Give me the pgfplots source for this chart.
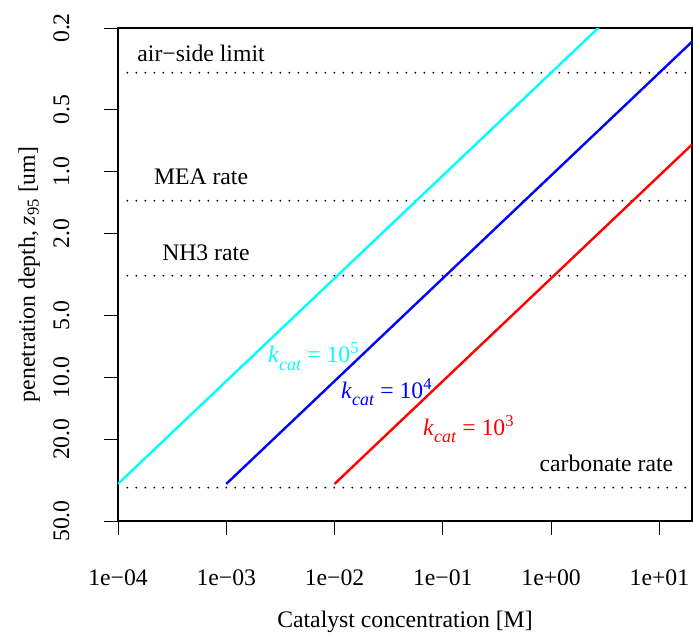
\documentclass[border=0pt]{standalone}
\usepackage{pgfplots}
\pgfplotsset{compat=1.18}
\usepackage{fontspec}
\setmainfont{Liberation Serif}
\definecolor{rcyan}{RGB}{0,255,255}
\definecolor{rblue}{RGB}{0,0,255}
\definecolor{rred}{RGB}{255,0,0}
\begin{document}
\fontsize{23.7}{28}\selectfont%
\begin{tikzpicture}
\begin{axis}[
  at={(0pt,0pt)}, anchor=south west,
  scale only axis, width=574pt, height=493pt,
  xmode=log, ymode=log, y dir=reverse,
  xmin=1e-4, xmax=20, ymin=0.2, ymax=50,
  enlargelimits=false,
  axis line style={line width=1.6pt},
  xtick={1e-4,1e-3,1e-2,1e-1,1,10},
  xticklabels={1e−04,1e−03,1e−02,1e−01,1e+00,1e+01},
  ytick={0.2,0.5,1,2,5,10,20,50},
  yticklabels={0.2,0.5,1.0,2.0,5.0,10.0,20.0,50.0},
  xminorticks=false, yminorticks=false,
  xtick pos=left, ytick pos=left,
  tick align=outside, major tick length=14pt,
  every tick/.style={black, line width=0.8pt},
  xticklabel style={anchor=base, inner sep=0pt},
  xticklabel shift=51pt,
  yticklabel style={rotate=90, anchor=base, inner sep=0pt},
  yticklabel shift=35pt,
  xlabel={Catalyst concentration [M]},
  ylabel={penetration depth, \textit{z}\textsubscript{95} [um]},
  xlabel style={at={(axis description cs:0.5,-0.215)}, anchor=base, inner sep=0pt},
  ylabel style={at={(axis description cs:-0.1446,0.5)}, rotate=0, anchor=base, inner sep=0pt},
  clip=true,
]
% reference levels
\addplot[black, line width=2.0pt, line cap=round, dash pattern=on 0pt off 9pt] coordinates {(1.22e-4,0.330) (20,0.330)};
\addplot[black, line width=2.0pt, line cap=round, dash pattern=on 0pt off 9pt] coordinates {(1.22e-4,1.383) (20,1.383)};
\addplot[black, line width=2.0pt, line cap=round, dash pattern=on 0pt off 9pt] coordinates {(1.22e-4,3.205) (20,3.205)};
\addplot[black, line width=2.0pt, line cap=round, dash pattern=on 0pt off 9pt] coordinates {(1.22e-4,34.4) (20,34.4)};
% penetration depth lines
\addplot[rcyan, line width=2.4pt] coordinates {(1e-4,33) (20,0.0738)};
\addplot[rblue, line width=2.4pt] coordinates {(1e-3,33) (20,0.2333)};
\addplot[rred, line width=2.4pt] coordinates {(1e-2,33) (20,0.738)};
% labels
\node[anchor=base, inner sep=0pt] at (axis cs:5.85e-4,0.292) {air−side limit};
\node[anchor=base, inner sep=0pt] at (axis cs:5.85e-4,1.16) {MEA rate};
\node[anchor=base, inner sep=0pt] at (axis cs:6.5e-4,2.69) {NH3 rate};
\node[anchor=base, inner sep=0pt] at (axis cs:3.24,28.8) {carbonate rate};
\node[anchor=base, inner sep=0pt, text=rcyan] at (axis cs:6.41e-3,8.51) {\textit{k}\raisebox{-0.3em}{\fontsize{18}{20}\selectfont\textit{cat}} = 10\textsuperscript{5}};
\node[anchor=base, inner sep=0pt, text=rblue] at (axis cs:0.0303,12.7) {\textit{k}\raisebox{-0.3em}{\fontsize{18}{20}\selectfont\textit{cat}} = 10\textsuperscript{4}};
\node[anchor=base, inner sep=0pt, text=rred] at (axis cs:0.173,19.1) {\textit{k}\raisebox{-0.3em}{\fontsize{18}{20}\selectfont\textit{cat}} = 10\textsuperscript{3}};
\end{axis}
\pgfresetboundingbox
\useasboundingbox (-118pt,-112pt) rectangle (575pt,521pt);
\end{tikzpicture}%
\end{document}
